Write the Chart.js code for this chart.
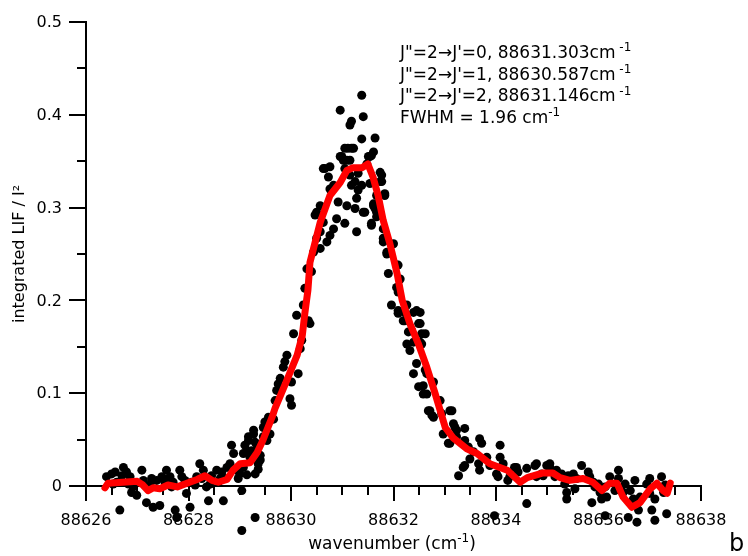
<!DOCTYPE html>
<html>
<head>
<meta charset="utf-8">
<script src="https://cdn.jsdelivr.net/npm/chart.js@4"></script>
<style>
  html, body { margin: 0; padding: 0; background: #fff; }
  #wrap { width: 748px; height: 556px; }
</style>
</head>
<body>
<div id="wrap"><canvas id="chart" width="748" height="556"></canvas></div>
<script>
// smoothed fit (red line)
const fitX = [88626.37, 88626.43, 88627.00, 88627.11, 88627.21, 88627.31, 88627.44, 88627.60, 88627.78, 88627.97,
  88628.17, 88628.32, 88628.46, 88628.58, 88628.75, 88628.87, 88629.01, 88629.20, 88629.34, 88629.45,
  88629.55, 88629.63, 88629.69, 88629.92, 88630.12, 88630.22, 88630.27, 88630.33, 88630.37, 88630.57,
  88630.76, 88630.96, 88631.09, 88631.21, 88631.39, 88631.50, 88631.60, 88631.70, 88631.80, 88631.93,
  88632.07, 88632.17, 88632.32, 88632.48, 88632.65, 88632.81, 88633.01, 88633.16, 88633.43, 88633.63,
  88633.88, 88634.22, 88634.47, 88634.61, 88634.92, 88635.11, 88635.25, 88635.44, 88635.70, 88635.89,
  88636.07, 88636.22, 88636.36, 88636.48, 88636.65, 88636.81, 88637.01, 88637.14, 88637.26, 88637.34,
  88637.40];
const fitY = [-0.002, 0.003, 0.005, 0.001, -0.005, -0.002, -0.003, 0.001, -0.001, 0.003,
  0.007, 0.011, 0.006, 0.004, 0.007, 0.017, 0.024, 0.025, 0.036, 0.049,
  0.063, 0.074, 0.084, 0.114, 0.141, 0.162, 0.186, 0.211, 0.241, 0.284,
  0.313, 0.327, 0.340, 0.343, 0.343, 0.347, 0.333, 0.313, 0.286, 0.261,
  0.229, 0.200, 0.175, 0.154, 0.128, 0.100, 0.063, 0.052, 0.040, 0.035,
  0.024, 0.017, 0.004, 0.009, 0.014, 0.014, 0.009, 0.006, 0.008, 0.004,
  -0.005, 0.003, 0.003, -0.012, -0.023, -0.018, -0.003, 0.003, -0.005, -0.008,
  0.003];

// measured points (black dots)
const dataX = [88626.40, 88626.50, 88626.57, 88626.60, 88626.66, 88626.70, 88626.73, 88626.79, 88626.86, 88626.89,
  88626.92, 88626.99, 88627.09, 88627.12, 88627.18, 88627.25, 88627.31, 88627.38, 88627.44, 88627.48,
  88627.57, 88627.64, 88627.67, 88627.74, 88627.77, 88627.83, 88627.87, 88627.96, 88628.03, 88628.06,
  88628.16, 88628.22, 88628.29, 88628.35, 88628.39, 88628.45, 88628.55, 88628.58, 88628.65, 88628.68,
  88628.71, 88628.75, 88628.81, 88628.84, 88628.88, 88628.94, 88629.00, 88629.04, 88629.04, 88629.07,
  88629.07, 88629.10, 88629.14, 88629.17, 88629.17, 88629.20, 88629.23, 88629.27, 88629.27, 88629.30,
  88629.30, 88629.30, 88629.33, 88629.36, 88629.40, 88629.40, 88629.46, 88629.46, 88629.49, 88629.49,
  88629.53, 88629.56, 88629.59, 88629.66, 88629.69, 88629.72, 88629.75, 88629.79, 88629.85, 88629.88,
  88629.92, 88629.98, 88630.01, 88630.01, 88630.05, 88630.11, 88630.14, 88630.18, 88630.21, 88630.24,
  88630.27, 88630.31, 88630.34, 88630.37, 88630.40, 88630.44, 88630.47, 88630.50, 88630.50, 88630.57,
  88630.57, 88630.57, 88630.63, 88630.63, 88630.66, 88630.70, 88630.73, 88630.76, 88630.76, 88630.76,
  88630.83, 88630.83, 88630.89, 88630.92, 88630.96, 88630.96, 88630.99, 88631.02, 88631.05, 88631.05,
  88631.05, 88631.09, 88631.09, 88631.11, 88631.15, 88631.15, 88631.15, 88631.18, 88631.18, 88631.18,
  88631.22, 88631.25, 88631.25, 88631.28, 88631.28, 88631.31, 88631.31, 88631.38, 88631.38, 88631.38,
  88631.41, 88631.41, 88631.44, 88631.48, 88631.51, 88631.54, 88631.54, 88631.57, 88631.57, 88631.57,
  88631.61, 88631.61, 88631.61, 88631.64, 88631.64, 88631.67, 88631.67, 88631.67, 88631.74, 88631.74,
  88631.77, 88631.77, 88631.80, 88631.80, 88631.80, 88631.83, 88631.83, 88631.87, 88631.87, 88631.90,
  88631.96, 88632.00, 88632.06, 88632.06, 88632.09, 88632.09, 88632.09, 88632.09, 88632.13, 88632.19,
  88632.22, 88632.22, 88632.26, 88632.26, 88632.29, 88632.32, 88632.35, 88632.39, 88632.39, 88632.39,
  88632.45, 88632.45, 88632.49, 88632.49, 88632.52, 88632.52, 88632.52, 88632.55, 88632.55, 88632.58,
  88632.58, 88632.62, 88632.62, 88632.65, 88632.65, 88632.68, 88632.71, 88632.75, 88632.78, 88632.78,
  88632.91, 88632.94, 88632.97, 88633.07, 88633.10, 88633.10, 88633.14, 88633.17, 88633.20, 88633.23,
  88633.23, 88633.27, 88633.36, 88633.39, 88633.39, 88633.39, 88633.46, 88633.49, 88633.56, 88633.66,
  88633.68, 88633.68, 88633.72, 88633.82, 88633.88, 88633.97, 88634.01, 88634.04, 88634.08, 88634.08,
  88634.14, 88634.23, 88634.27, 88634.36, 88634.40, 88634.43, 88634.60, 88634.60, 88634.76, 88634.79,
  88634.79, 88634.89, 88634.99, 88635.02, 88635.05, 88635.05, 88635.15, 88635.18, 88635.28, 88635.34,
  88635.38, 88635.38, 88635.38, 88635.41, 88635.51, 88635.54, 88635.54, 88635.67, 88635.80, 88635.83,
  88635.87, 88635.90, 88635.93, 88636.00, 88636.03, 88636.06, 88636.13, 88636.16, 88636.22, 88636.32,
  88636.39, 88636.39, 88636.52, 88636.58, 88636.62, 88636.68, 88636.71, 88636.75, 88636.78, 88636.94,
  88637.00, 88637.00, 88637.04, 88637.10, 88637.10, 88637.23, 88637.27, 88637.30, 88637.33,
  // points partly hidden under the fit along the baseline
  88626.53, 88626.83, 88627.15, 88627.28, 88627.54, 88627.70, 88627.93, 88628.13, 88628.26, 88628.42,
  88628.62, 88628.97, 88629.14, 88629.36, 88634.92, 88635.57, 88636.13, 88636.48, 88636.81];
const dataY = [0.010, 0.013, 0.015, 0.004, -0.026, 0.011, 0.020, 0.015, 0.010, -0.007,
  -0.001, -0.010, 0.017, 0.006, -0.018, 0.001, -0.023, 0.006, -0.021, 0.010,
  0.017, 0.010, -0.001, -0.026, -0.034, 0.017, 0.010, -0.008, -0.023, 0.004,
  0.010, 0.024, 0.017, -0.001, -0.016, 0.011, 0.017, 0.004, 0.015, -0.016,
  0.008, 0.020, 0.024, 0.044, 0.035, 0.017, 0.013, -0.005, -0.048, 0.020,
  0.035, 0.044, 0.038, 0.049, 0.053, 0.031, 0.038, 0.056, 0.060, 0.013,
  0.047, -0.034, 0.040, 0.024, 0.028, 0.033, 0.053, 0.063, 0.063, 0.069,
  0.049, 0.074, 0.056, 0.072, 0.092, 0.103, 0.110, 0.116, 0.128, 0.134,
  0.141, 0.094, 0.087, 0.112, 0.164, 0.184, 0.121, 0.148, 0.157, 0.195,
  0.213, 0.234, 0.178, 0.175, 0.231, 0.252, 0.292, 0.295, 0.267, 0.302,
  0.274, 0.256, 0.342, 0.284, 0.342, 0.263, 0.333, 0.344, 0.320, 0.270,
  0.324, 0.277, 0.288, 0.306, 0.405, 0.355, 0.355, 0.351, 0.364, 0.342,
  0.283, 0.351, 0.302, 0.364, 0.389, 0.351, 0.335, 0.393, 0.364, 0.324,
  0.364, 0.328, 0.299, 0.310, 0.274, 0.337, 0.319, 0.421, 0.374, 0.324,
  0.398, 0.295, 0.295, 0.347, 0.355, 0.355, 0.326, 0.356, 0.283, 0.281,
  0.360, 0.302, 0.304, 0.375, 0.299, 0.313, 0.295, 0.290, 0.338, 0.328,
  0.335, 0.328, 0.277, 0.267, 0.263, 0.313, 0.315, 0.252, 0.250, 0.229,
  0.195, 0.261, 0.238, 0.214, 0.238, 0.189, 0.209, 0.186, 0.223, 0.178,
  0.187, 0.178, 0.153, 0.195, 0.166, 0.146, 0.168, 0.121, 0.187, 0.155,
  0.189, 0.132, 0.107, 0.175, 0.187, 0.175, 0.155, 0.164, 0.153, 0.099,
  0.108, 0.164, 0.125, 0.121, 0.099, 0.081, 0.081, 0.076, 0.112, 0.074,
  0.092, 0.078, 0.056, 0.046, 0.081, 0.046, 0.081, 0.067, 0.063, 0.060,
  0.053, 0.011, 0.020, 0.062, 0.049, 0.022, 0.042, 0.029, 0.037, 0.024,
  0.051, 0.017, 0.046, 0.031, 0.022, -0.032, 0.013, 0.010, 0.044, 0.031,
  0.024, 0.006, 0.010, 0.020, 0.020, 0.015, 0.019, -0.019, 0.022, 0.024,
  0.010, 0.013, 0.022, 0.022, 0.024, 0.020, 0.010, 0.017, 0.013, 0.002,
  0.010, -0.007, -0.014, 0.011, 0.013, -0.003, 0.008, 0.022, 0.015, 0.010,
  -0.018, 0.004, -0.001, 0.002, -0.007, -0.014, -0.032, -0.012, 0.010, -0.005,
  0.017, 0.008, 0.002, -0.034, -0.005, -0.014, 0.006, -0.039, -0.026, 0.002,
  0.008, -0.008, -0.026, -0.014, -0.037, 0.010, -0.007, 0.001, -0.030,
  0.002, 0.002, 0.001, 0.008, 0.004, 0.004, 0.006, 0.001, 0.008, 0.002,
  0.008, 0.008, 0.012, 0.018, 0.011, 0.008, -0.001, -0.007, -0.012];

const xTicks = [88626, 88628, 88630, 88632, 88634, 88636, 88638];
const yTicks = [0, 0.1, 0.2, 0.3, 0.4, 0.5];
const yTickLabels = ['0', '0.1', '0.2', '0.3', '0.4', '0.5'];
const notes = [
  ['J"=2\u2192J\'=0, 88631.303cm', ' -1'],
  ['J"=2\u2192J\'=1, 88630.587cm', ' -1'],
  ['J"=2\u2192J\'=2, 88631.146cm', ' -1'],
  ['FWHM = 1.96 cm', '-1']
];

const FONT = "'DejaVu Sans', Verdana, sans-serif";

function textWithSup(ctx, parts, x, y, size, align) {
  // parts: [text, isSup]
  const supSize = Math.round(size * 0.68);
  const widths = parts.map(p => {
    ctx.font = (p[1] ? supSize : size) + 'px ' + FONT;
    return ctx.measureText(p[0]).width;
  });
  const total = widths.reduce((a, b) => a + b, 0);
  let left = align === 'center' ? x - total / 2 : x;
  ctx.textAlign = 'left';
  ctx.textBaseline = 'alphabetic';
  parts.forEach((p, i) => {
    ctx.font = (p[1] ? supSize : size) + 'px ' + FONT;
    ctx.fillText(p[0], left, p[1] ? y - size * 0.4 : y);
    left += widths[i];
  });
}

const axesPlugin = {
  id: 'frameAxes',
  beforeDatasetsDraw(chart) {
    const { ctx, scales: { x, y } } = chart;
    const x0 = x.getPixelForValue(88626);
    const x1 = x.getPixelForValue(88638);
    const y0 = Math.round(y.getPixelForValue(0));
    const yTop = y.getPixelForValue(0.5);
    ctx.save();
    ctx.strokeStyle = '#000';
    ctx.lineWidth = 2;
    ctx.beginPath();
    ctx.moveTo(x0, yTop - 1);
    ctx.lineTo(x0, y0);
    ctx.moveTo(x0, y0);
    ctx.lineTo(x1 + 1, y0);
    // y ticks: major every 0.1, minor at 0.05
    for (let i = 0; i <= 10; i++) {
      const py = Math.round(y.getPixelForValue(i * 0.05));
      const len = i % 2 === 0 ? 17 : 9;
      ctx.moveTo(x0 - len, py);
      ctx.lineTo(x0, py);
    }
    // x ticks: major every 2, minor every 0.5
    for (let i = 0; i <= 24; i++) {
      const px = Math.round(x.getPixelForValue(88626 + i * 0.5));
      const len = i % 4 === 0 ? 15 : 9;
      ctx.moveTo(px, y0);
      ctx.lineTo(px, y0 + len);
    }
    ctx.stroke();

    ctx.fillStyle = '#000';
    ctx.font = '16px ' + FONT;
    ctx.textAlign = 'right';
    ctx.textBaseline = 'middle';
    yTicks.forEach((v, i) => {
      ctx.fillText(yTickLabels[i], x0 - 24, y.getPixelForValue(v) + 1);
    });
    ctx.textAlign = 'center';
    xTicks.forEach(v => {
      ctx.fillText(String(v), x.getPixelForValue(v), y0 + 35);
    });

    // axis titles
    ctx.save();
    ctx.translate(20, 254);
    ctx.rotate(-Math.PI / 2);
    ctx.font = '16px ' + FONT;
    ctx.textAlign = 'center';
    ctx.textBaseline = 'middle';
    ctx.fillText('integrated LIF / I\u00b2', 0, 0);
    ctx.restore();

    textWithSup(ctx, [['wavenumber (cm', false], ['-1', true], [')', false]], 392, 549, 17, 'center');

    // annotation block
    notes.forEach((n, i) => {
      textWithSup(ctx, [[n[0], false], [n[1], true]], 400, 58 + i * 21.7, 17, 'left');
    });

    ctx.font = '24px ' + FONT;
    ctx.textAlign = 'left';
    ctx.fillText('b', 729, 551);
    ctx.restore();
  }
};

new Chart(document.getElementById('chart'), {
  type: 'scatter',
  data: {
    datasets: [
      {
        type: 'line',
        data: fitX.map((v, i) => ({ x: v, y: fitY[i] })),
        borderColor: '#ff0000',
        borderWidth: 7,
        borderJoinStyle: 'round',
        borderCapStyle: 'round',
        pointRadius: 0,
        fill: false,
        tension: 0,
        clip: false,
        order: 0
      },
      {
        data: dataX.map((v, i) => ({ x: v, y: dataY[i] })),
        pointRadius: 4.5,
        pointBackgroundColor: '#000',
        pointBorderWidth: 0,
        clip: false,
        order: 1
      }
    ]
  },
  options: {
    responsive: false,
    animation: false,
    events: [],
    plugins: { legend: { display: false }, tooltip: { enabled: false } },
    layout: { padding: { left: 86, right: 47, top: 22, bottom: 19 } },
    scales: {
      x: { type: 'linear', min: 88626, max: 88638, display: false },
      y: { type: 'linear', min: -0.055, max: 0.5, display: false }
    }
  },
  plugins: [axesPlugin]
});
</script>
</body>
</html>
